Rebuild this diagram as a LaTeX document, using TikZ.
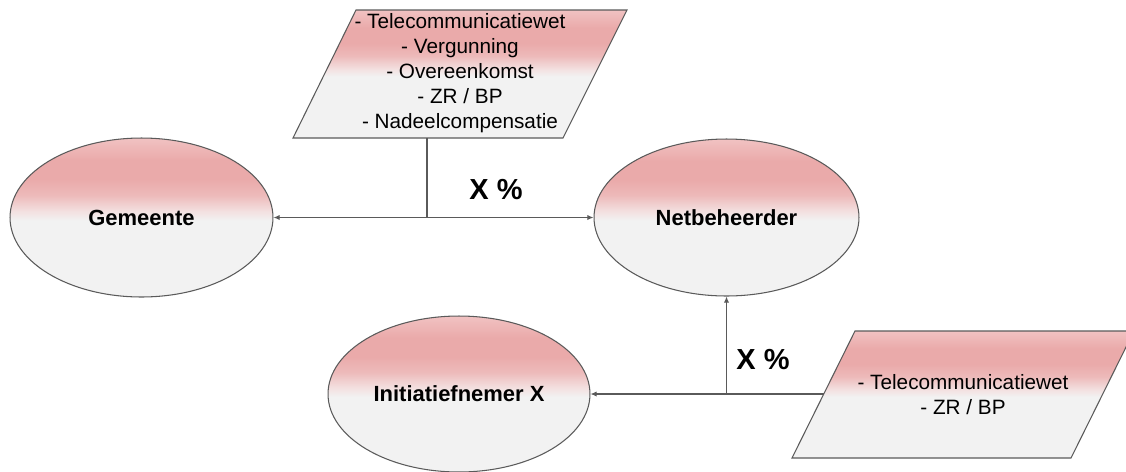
\documentclass[tikz,border=0pt]{standalone}
\usepackage{fontspec}
\setmainfont{Liberation Sans}
\usepackage{tikz}
\usetikzlibrary{shapes.geometric,arrows.meta,calc}

\definecolor{pinktop}{RGB}{241,194,194}
\definecolor{pinkdeep}{RGB}{234,170,170}
\definecolor{pinkmid}{RGB}{237,186,186}
\definecolor{pinkpale}{RGB}{243,224,224}
\definecolor{boxgrey}{RGB}{242,242,242}
\definecolor{edgegrey}{RGB}{90,90,90}

\pgfdeclareverticalshading{pinkfade}{100bp}{color(0bp)=(boxgrey); color(25bp)=(boxgrey);
  color(49bp)=(boxgrey); color(52bp)=(pinkpale); color(57bp)=(pinkmid);
  color(62bp)=(pinkdeep); color(68bp)=(pinkdeep); color(75bp)=(pinktop); color(100bp)=(pinktop)}

\begin{document}
\begin{tikzpicture}[x=0.02cm,y=-0.02cm,
    party/.style={ellipse,draw=edgegrey,line width=0.6pt,shading=pinkfade,inner sep=0pt,
      font=\fontsize{12.5}{15}\selectfont\bfseries},
    rules/.style={align=center,inner sep=0pt,font=\fontsize{11.8}{14.2}\selectfont},
    pct/.style={font=\fontsize{16.5}{19}\selectfont\bfseries},
    link/.style={edgegrey,line width=0.6pt},
    pijl/.style={link,-{Latex[length=3.5pt,width=3pt]}}]
      \useasboundingbox (0,0) rectangle (1126,471);
      \clip (0,0) rectangle (1126,471);
      % partijen
      \node[party,minimum width=5.26cm,minimum height=3.18cm] (gem) at (141.5,217.5) {Gemeente};
      \node[party,minimum width=5.3cm,minimum height=3.14cm] (net) at (726.5,217.5) {Netbeheerder};
      \node[party,minimum width=5.24cm,minimum height=3.12cm] (ini) at (459,394) {Initiatiefnemer X};
      % regelgeving
      \shade[shading=pinkfade,draw=edgegrey,line width=0.6pt] (293,138) -- (563,138) -- (627,10) -- (356,10) -- cycle;
      \shade[shading=pinkfade,draw=edgegrey,line width=0.6pt] (792,458) -- (1071,458) -- (1134,331) -- (855,331) -- cycle;
      \node[rules] (toplaws) at (460,73) {- Telecommunicatiewet\\- Vergunning\\- Overeenkomst\\- ZR / BP\\- Nadeelcompensatie};
      \node[rules] (botlaws) at (963,394.5) {- Telecommunicatiewet\\- ZR / BP};
      % verbindingen
      \coordinate (topfoot) at (427,138);
      \coordinate (topsplit) at (topfoot |- gem.east);
      \coordinate (botside) at (823.7,394);
      \coordinate (botsplit) at (net.south |- ini.east);
      \draw[link] (topfoot) -- (topsplit);
      \draw[pijl] (topsplit) -- (gem.east);
      \draw[pijl] (topsplit) -- (net.west);
      \draw[pijl] (botside) -- (ini.east);
      \draw[pijl] (botsplit) -- (net.south);
      \node[pct] (pcttop) at (496,190) {X \%};
      \node[pct] (pctbot) at (763,360) {X \%};
    \end{tikzpicture}
\end{document}
